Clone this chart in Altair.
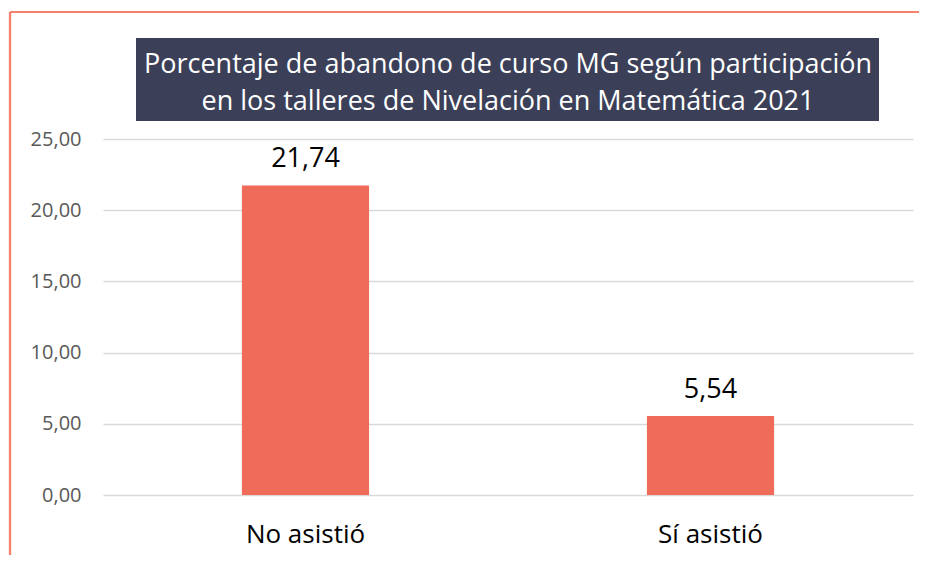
import altair as alt
import pandas as pd

categories = ["No asistió", "Sí asistió"]
values = [21.74, 5.54]
title_lines = ["Porcentaje de abandono de curso MG según participación",
               "en los talleres de Nivelación en Matemática 2021"]

df = pd.DataFrame({"cat": categories, "val": values})
df["lab"] = [f"{v:.2f}".replace(".", ",") for v in values]

FONT = "Open Sans"
W, H = 810, 356

base = alt.Chart(df)

bars = base.mark_bar(color="#EF6B5A").encode(
    x=alt.X("cat:N", sort=categories,
            scale=alt.Scale(paddingInner=0.686, paddingOuter=0.343),
            axis=alt.Axis(title=None, labelAngle=0, labelFont=FONT, labelFontSize=26,
                          labelColor="#000000", labelPadding=26, domain=False, ticks=False)),
    y=alt.Y("val:Q", scale=alt.Scale(domain=[0, 25], nice=False),
            axis=alt.Axis(title=None, values=[0, 5, 10, 15, 20, 25],
                          labelExpr="replace(format(datum.value, '.2f'), '.', ',')",
                          labelFont=FONT, labelFontSize=20, labelColor="#595959",
                          labelPadding=22, domain=False, ticks=False,
                          gridColor="#D9D9D9", gridWidth=1.5)),
)

labels = base.mark_text(font=FONT, fontSize=27, color="#000000", baseline="bottom", dy=-12).encode(
    x=alt.X("cat:N", sort=categories),
    y="val:Q",
    text="lab:N",
)

tdf = pd.DataFrame({"t": title_lines, "i": [0, 1]})
title_box = alt.Chart(tdf).transform_filter("datum.i == 0").mark_rect(color="#3B4058").encode(
    x=alt.value(33), x2=alt.value(776), y=alt.value(-101), y2=alt.value(-18)
)
title_l1 = alt.Chart(tdf).transform_filter("datum.i == 0").mark_text(
    font=FONT, fontSize=27, color="#FFFFFF", align="center", baseline="middle").encode(
    x=alt.value(405), y=alt.value(-74), text="t:N")
title_l2 = alt.Chart(tdf).transform_filter("datum.i == 1").mark_text(
    font=FONT, fontSize=27, color="#FFFFFF", align="center", baseline="middle").encode(
    x=alt.value(405), y=alt.value(-37), text="t:N")

frame_left = alt.Chart(tdf).transform_filter("datum.i == 0").mark_rule(color="#F4806E", strokeWidth=2.3).encode(
    x=alt.value(-93), y=alt.value(-127), y2=alt.value(430)
)
frame_top = alt.Chart(tdf).transform_filter("datum.i == 0").mark_rule(color="#F4806E", strokeWidth=2).encode(
    x=alt.value(-93), x2=alt.value(830), y=alt.value(-127)
)

chart = alt.layer(frame_left, frame_top, bars, labels, title_box, title_l1, title_l2).properties(
    width=W, height=H,
    autosize=alt.AutoSizeParams(type="none"),
    padding={"left": 95, "top": 131, "right": 6, "bottom": 60},
    background="#FFFFFF",
).configure_view(stroke=None)

chart.save("out.html", embed_options={"renderer": "svg", "actions": False})
